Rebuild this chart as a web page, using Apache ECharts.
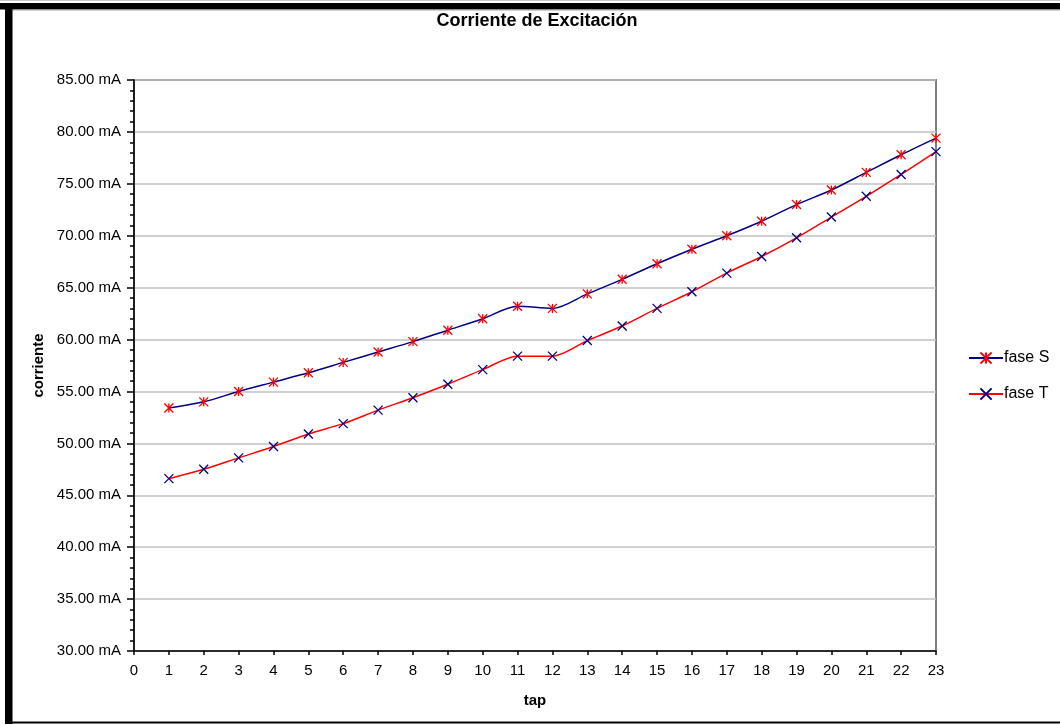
<!DOCTYPE html>
<html>
<head>
<meta charset="utf-8">
<title>Corriente de Excitación</title>
<script src="https://cdn.jsdelivr.net/npm/echarts@6/dist/echarts.min.js"></script>
<style>
  html, body { margin: 0; padding: 0; background: #fff; }
  #chart { width: 1060px; height: 725px; }
</style>
</head>
<body>
<div id="chart"></div>
<script>
// Excitation current per tap position, two phases (mA)
const taps = [1, 2, 3, 4, 5, 6, 7, 8, 9, 10, 11, 12, 13, 14, 15, 16, 17, 18, 19, 20, 21, 22, 23];
const faseS = [53.4, 54.0, 55.0, 55.9, 56.8, 57.8, 58.8, 59.8, 60.9, 62.0, 63.2, 63.0, 64.4, 65.8, 67.3, 68.7, 70.0, 71.4, 73.0, 74.4, 76.1, 77.8, 79.4];
const faseT = [46.6, 47.5, 48.6, 49.7, 50.9, 51.9, 53.2, 54.4, 55.7, 57.1, 58.4, 58.4, 59.9, 61.3, 63.0, 64.6, 66.4, 68.0, 69.8, 71.8, 73.8, 75.9, 78.1];
const seriesNames = ['fase S', 'fase T'];

const FONT = '"Liberation Sans", Arial, sans-serif';
const NAVY = '#000080';
const RED = '#ff0000';

// Marker shapes: asterisk (x with vertical bar) and a plain x
const STAR = 'path://M0,0L10,10M10,0L0,10M5,0L5,10';
const CROSS = 'path://M0,0L10,10M10,0L0,10';

const pairs = (ys) => taps.map((t, i) => [t, ys[i]]);

const chart = echarts.init(document.getElementById('chart'), null, { renderer: 'canvas' });

chart.setOption({
  animation: false,
  backgroundColor: '#ffffff',
  textStyle: { fontFamily: FONT },
  title: {
    text: 'Corriente de Excitación',
    left: 537,
    textAlign: 'center',
    top: 12,
    padding: 0,
    textStyle: { fontFamily: FONT, fontSize: 18, fontWeight: 'bold', color: '#000' }
  },
  legend: {
    orient: 'vertical',
    left: 968,
    top: 350,
    padding: 0,
    itemWidth: 34,
    itemHeight: 14,
    itemGap: 20,
    data: seriesNames,
    textStyle: { fontFamily: FONT, fontSize: 16, color: '#000', padding: [0, 0, 0, -4] }
  },
  grid: {
    left: 134,
    right: 124,
    top: 80,
    bottom: 74,
    show: true,
    borderColor: '#808080',
    borderWidth: 2,
    backgroundColor: '#ffffff'
  },
  xAxis: {
    type: 'value',
    min: 0,
    max: 23,
    interval: 1,
    name: 'tap',
    nameLocation: 'middle',
    nameGap: 42,
    nameTextStyle: { fontFamily: FONT, fontSize: 15, fontWeight: 'bold', color: '#000' },
    axisLine: { show: true, onZero: false, lineStyle: { color: '#000', width: 1.5 } },
    axisTick: { show: true, inside: false, length: 4, lineStyle: { color: '#000', width: 1.5 } },
    axisLabel: { fontFamily: FONT, fontSize: 15, color: '#000', margin: 12 },
    splitLine: { show: false }
  },
  yAxis: {
    type: 'value',
    min: 30,
    max: 85,
    interval: 5,
    name: 'corriente',
    nameLocation: 'middle',
    nameRotate: 90,
    nameGap: 86,
    nameTextStyle: { fontFamily: FONT, fontSize: 15, fontWeight: 'bold', color: '#000' },
    axisLine: { show: true, onZero: false, lineStyle: { color: '#000', width: 1.5 } },
    axisTick: { show: true, inside: false, length: 7, lineStyle: { color: '#000', width: 1.5 } },
    minorTick: { show: true, splitNumber: 5, length: 4, lineStyle: { color: '#000', width: 1.5 } },
    axisLabel: {
      fontFamily: FONT, fontSize: 15, color: '#000', margin: 13,
      formatter: (v) => v.toFixed(2) + ' mA'
    },
    splitLine: { show: true, lineStyle: { color: '#c0c0c0', width: 1.5 } }
  },
  series: [
    {
      name: seriesNames[0],
      type: 'line',
      data: pairs(faseS),
      smooth: 0.3,
      symbol: STAR,
      symbolSize: 9,
      lineStyle: { color: NAVY, width: 1.5 },
      itemStyle: { color: RED, borderColor: RED, borderWidth: 1.3 },
      emphasis: { disabled: true },
      z: 3
    },
    {
      name: seriesNames[1],
      type: 'line',
      data: pairs(faseT),
      smooth: 0.3,
      symbol: CROSS,
      symbolSize: 9,
      lineStyle: { color: RED, width: 1.5 },
      itemStyle: { color: NAVY, borderColor: NAVY, borderWidth: 1.3 },
      emphasis: { disabled: true },
      z: 3
    }
  ],
  // Outer chart frame: heavy black edge on top and left, thin line at the bottom
  graphic: [
    { type: 'line', shape: { x1: 0, y1: 0.5, x2: 1060, y2: 0.5 }, style: { stroke: '#c8c8c8', lineWidth: 1 } },
    { type: 'rect', shape: { x: 0, y: 3, width: 1060, height: 6.5 }, style: { fill: '#000' } },
    { type: 'line', shape: { x1: 12, y1: 10, x2: 1060, y2: 10 }, style: { stroke: '#a0a0a0', lineWidth: 1 } },
    { type: 'rect', shape: { x: 5, y: 3, width: 7.5, height: 721 }, style: { fill: '#000' } },
    { type: 'rect', shape: { x: 5, y: 721.5, width: 1055, height: 2 }, style: { fill: '#000' } }
  ]
});
</script>
</body>
</html>
